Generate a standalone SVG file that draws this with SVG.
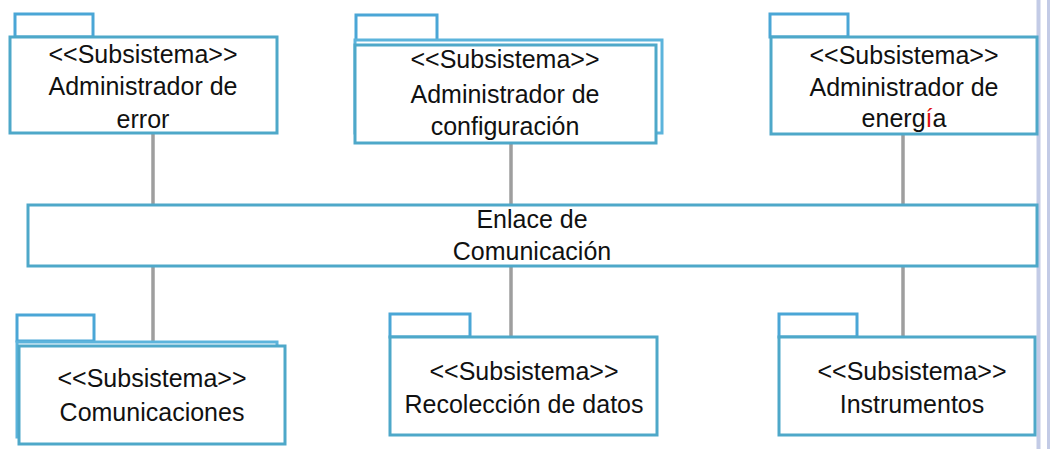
<svg xmlns="http://www.w3.org/2000/svg" width="1051" height="449" viewBox="0 0 1051 449">
<style>
.body{fill:#ffffff;stroke:#4ea8c9;stroke-width:3}
.back{fill:#ffffff;stroke:#5cb4dc;stroke-width:3}
.tab{fill:#ffffff;stroke:#4aa6d6;stroke-width:3}
.conn{stroke:#9e9e9e;stroke-width:3.5;fill:none}
.edge{stroke:#c3cbe6;fill:none}
text{font-family:"Liberation Sans",Arial,sans-serif;font-size:25px;fill:#111111;text-anchor:middle}
</style>
<rect width="1051" height="449" fill="#ffffff"/>
<line class="edge" x1="1038.5" y1="0" x2="1038.5" y2="449" stroke-width="4"/>
<line class="edge" x1="1048.5" y1="0" x2="1048.5" y2="449" stroke-width="3"/>
<g id="connectors">
<line class="conn" x1="153" y1="133" x2="153" y2="205"/>
<line class="conn" x1="511" y1="143" x2="511" y2="205"/>
<line class="conn" x1="903" y1="134" x2="903" y2="205"/>
<line class="conn" x1="153" y1="266" x2="153" y2="342"/>
<line class="conn" x1="511" y1="266" x2="511" y2="337"/>
<line class="conn" x1="903" y1="266" x2="903" y2="337"/>
</g>
<g id="admin-error">
<rect class="tab" x="15" y="14" width="78" height="23"/>
<rect class="body" x="10" y="37" width="267" height="96"/>
<text x="143" y="63">&lt;&lt;Subsistema&gt;&gt;</text>
<text x="143" y="95">Administrador de</text>
<text x="143" y="128">error</text>
</g>
<g id="admin-config">
<rect class="tab" x="356" y="15" width="81" height="26"/>
<rect class="back" x="355" y="40" width="307" height="93"/>
<rect class="body" x="355" y="45" width="301" height="98"/>
<text x="505" y="68">&lt;&lt;Subsistema&gt;&gt;</text>
<text x="505" y="103">Administrador de</text>
<text x="505" y="135">configuración</text>
</g>
<g id="admin-energia">
<rect class="tab" x="770" y="14" width="78" height="23"/>
<rect class="body" x="771" y="37" width="266" height="97"/>
<text x="904" y="64">&lt;&lt;Subsistema&gt;&gt;</text>
<text x="904" y="96">Administrador de</text>
<text x="904" y="127">energ<tspan fill="#e01010">í</tspan>a</text>
</g>
<g id="enlace">
<rect class="body" x="28" y="205" width="1009" height="61"/>
<text x="532" y="228">Enlace de</text>
<text x="532" y="260">Comunicación</text>
</g>
<g id="comunicaciones">
<rect class="tab" x="17" y="315" width="77" height="26"/>
<rect class="back" x="17" y="342" width="260" height="95"/>
<rect class="body" x="19" y="346" width="266" height="98"/>
<text x="152" y="387">&lt;&lt;Subsistema&gt;&gt;</text>
<text x="152" y="421">Comunicaciones</text>
</g>
<g id="recoleccion">
<rect class="tab" x="390" y="314" width="80" height="23"/>
<rect class="body" x="390" y="337" width="267" height="98"/>
<text x="524" y="380">&lt;&lt;Subsistema&gt;&gt;</text>
<text x="524" y="413">Recolección de datos</text>
</g>
<g id="instrumentos">
<rect class="tab" x="779" y="314" width="78" height="23"/>
<rect class="body" x="779" y="337" width="256" height="98"/>
<text x="912" y="380">&lt;&lt;Subsistema&gt;&gt;</text>
<text x="912" y="413">Instrumentos</text>
</g>
</svg>
